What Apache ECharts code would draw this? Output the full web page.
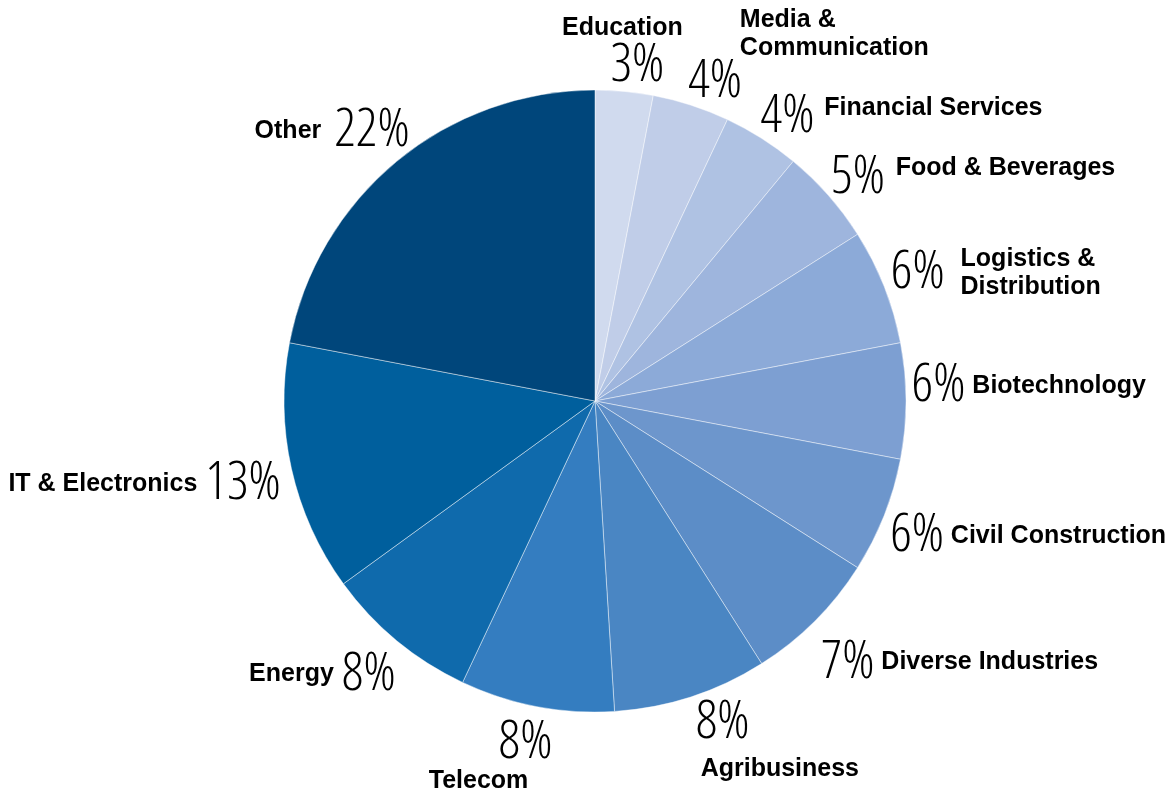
<!DOCTYPE html>
<html>
<head>
<meta charset="utf-8">
<script src="https://cdn.jsdelivr.net/npm/echarts@6/dist/echarts.min.js"></script>
<style>
  html, body { margin: 0; padding: 0; background: #fff; }
  #chart { width: 1165px; height: 791px; }
</style>
</head>
<body>
<div id="chart"></div>
<script>
// Sector shares (percent), listed clockwise from 12 o'clock
const sectors = [
  'Education', 'Media &\nCommunication', 'Financial Services', 'Food & Beverages',
  'Logistics &\nDistribution', 'Biotechnology', 'Civil Construction', 'Diverse Industries',
  'Agribusiness', 'Telecom', 'Energy', 'IT & Electronics', 'Other'
];
const shares = [3, 4, 4, 5, 6, 6, 6, 7, 8, 8, 8, 13, 22];

// Blue ramp, light to dark
const palette = [
  '#d0daee', '#c0cde8', '#afc2e3', '#9eb5dd', '#8caad8', '#7d9fd2', '#6d96cc',
  '#5c8dc7', '#4a86c3', '#347dc0', '#0f6aac', '#005f9d', '#00467b'
];

// Geometry of the pie
const CX = 595, CY = 401, R = 311;
const GAP = 5;
const PCT_FAMILY = "'Open Sans', 'Liberation Sans', sans-serif";
const PCT_WEIGHT = '300 condensed';
const PCT_SIZE = 53;
const PCT_LINE = 44;
const NAME_SIZE = 25;

// Where the name sits relative to its percentage
const namePlacement = {
  'Education': 'above',
  'Media &\nCommunication': 'aboveRight',
  'Agribusiness': 'below',
  'Telecom': 'belowLeft'
};
// Label tuning for crowded spots: angle (deg) and radial (px) nudges,
// gap between percentage and name, vertical shift of the name
const labelTune = {
  'Education':              { da: 1.8,  dr: -3 },
  'Media &\nCommunication': { da: 2.6,  dr: -5 },
  'Financial Services':     { da: 1.7,  dr: -6, gap: 11, dy: -9 },
  'Food & Beverages':       { da: 1.1,  dr: -6, gap: 12, dy: -10 },
  'Logistics &\nDistribution': { da: 0, dr: -2, gap: 17 },
  'Biotechnology':          { da: -2.5, dr: 0 },
  'Civil Construction':     { da: 1.2,  dr: 0 },
  'Diverse Industries':     { da: 1.0,  dr: 13 },
  'Agribusiness':           { da: -3.6, dr: 0 },
  'Telecom':                { da: 0.7,  dr: 6 },
  'Energy':                 { da: 0,    dr: 5 },
  'IT & Electronics':       { da: -0.7, dr: 4 },
  'Other':                  { da: 0,    dr: -7, gap: 13 }
};

const total = shares.reduce((a, b) => a + b, 0);
function midAngle(i) {
  let cum = 0;
  for (let k = 0; k < i; k++) cum += shares[k];
  const t = labelTune[sectors[i]] || {};
  return (cum + shares[i] / 2) / total * Math.PI * 2 + (t.da || 0) * Math.PI / 180;
}

const measureCtx = document.createElement('canvas').getContext('2d');
function pctWidth(i) {
  measureCtx.font = 'normal ' + PCT_WEIGHT + ' ' + PCT_SIZE + 'px ' + PCT_FAMILY;
  return measureCtx.measureText(shares[i] + '%').width;
}

// Centre of the percentage label: pushed out along the slice's bisector
function pctCenter(i, w, h) {
  const a = midAngle(i);
  const s = Math.sin(a), c = Math.cos(a);
  const t = labelTune[sectors[i]] || {};
  const d = R + GAP + (t.dr || 0) + (w / 2) * Math.abs(s) + (h / 2) * Math.abs(c);
  return [CX + d * s, CY - d * c, s];
}

const chart = echarts.init(document.getElementById('chart'), null, { renderer: 'canvas' });

const data = sectors.map((name, i) => ({ name: name, value: shares[i] }));

chart.setOption({
  animation: false,
  color: palette,
  series: [
    {
      type: 'pie',
      center: [CX, CY],
      radius: R,
      startAngle: 90,
      clockwise: true,
      avoidLabelOverlap: false,
      emphasis: { disabled: true },
      itemStyle: { borderColor: 'rgba(255,255,255,0.55)', borderWidth: 0.8 },
      label: {
        show: true,
        position: 'outside',
        formatter: '{c}%',
        color: '#000',
        fontFamily: PCT_FAMILY,
        fontWeight: PCT_WEIGHT,
        fontSize: PCT_SIZE,
        lineHeight: PCT_LINE
      },
      labelLine: { show: false },
      labelLayout: function (p) {
        const w = p.labelRect.width;
        const ctr = pctCenter(p.dataIndex, w, PCT_LINE);
        return { x: ctr[0], y: ctr[1], align: 'center', verticalAlign: 'middle' };
      },
      data: data
    },
    {
      type: 'pie',
      center: [CX, CY],
      radius: R,
      startAngle: 90,
      clockwise: true,
      silent: true,
      avoidLabelOverlap: false,
      emphasis: { disabled: true },
      itemStyle: { color: 'rgba(0,0,0,0)', borderWidth: 0 },
      label: {
        show: true,
        position: 'outside',
        formatter: '{b}',
        color: '#000',
        fontFamily: "'Liberation Sans', Arial, sans-serif",
        fontWeight: 'bold',
        fontSize: NAME_SIZE,
        lineHeight: 28
      },
      labelLine: { show: false },
      labelLayout: function (p) {
        const i = p.dataIndex;
        const w = pctWidth(i);
        const ctr = pctCenter(i, w, PCT_LINE);
        const t = labelTune[sectors[i]] || {};
        const px = ctr[0], py = ctr[1] + (t.dy || 0);
        const gap = t.gap != null ? t.gap : 8;
        const mode = namePlacement[sectors[i]] || (ctr[2] > 0 ? 'right' : 'left');
        switch (mode) {
          case 'right':
            return { x: px + w / 2 + gap - 1, y: py, align: 'left', verticalAlign: 'middle' };
          case 'left':
            return { x: px - w / 2 - gap, y: py, align: 'right', verticalAlign: 'middle' };
          case 'above':
            return { x: px - 15, y: py - 37, align: 'center', verticalAlign: 'middle' };
          case 'aboveRight':
            return { x: px + w / 2 - 2, y: py - 48, align: 'left', verticalAlign: 'middle' };
          case 'below':
            return { x: px - w / 2 + 5, y: py + 46, align: 'left', verticalAlign: 'middle' };
          case 'belowLeft':
            return { x: px + w / 2 - 24, y: py + 38, align: 'right', verticalAlign: 'middle' };
        }
      },
      data: data
    }
  ]
});
</script>
</body>
</html>
